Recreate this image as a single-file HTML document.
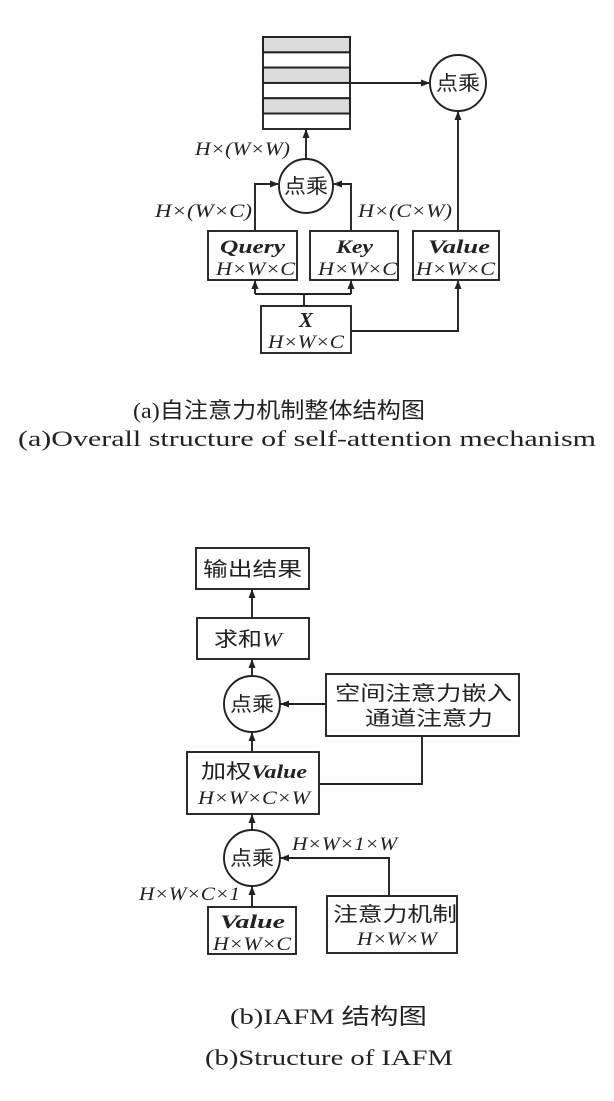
<!DOCTYPE html>
<html><head><meta charset="utf-8"><style>
html,body{margin:0;padding:0;background:#fff;}
svg{display:block;}
text{fill:#222;}
.s{font-family:"Liberation Serif","Noto Serif CJK SC",serif;}
.c{font-family:"Liberation Serif","Noto Sans CJK SC",serif;}
</style></head><body>
<svg width="614" height="1101" viewBox="0 0 614 1101" xmlns="http://www.w3.org/2000/svg">
<defs><marker id="a" markerWidth="9" markerHeight="8" refX="8" refY="4" orient="auto" markerUnits="userSpaceOnUse"><path d="M0,0.5 L9,4 L0,7.5 z" fill="#222"/></marker></defs>
<g stroke="#222" stroke-width="1.9" fill="none">
<rect x="263" y="37" width="87" height="15.3" fill="#dcdcdc"/>
<rect x="263" y="67.6" width="87" height="15.3" fill="#dcdcdc"/>
<rect x="263" y="98.2" width="87" height="15.3" fill="#dcdcdc"/>
<rect x="263" y="37" width="87" height="92"/>
<line x1="263" y1="52.3" x2="350" y2="52.3"/><line x1="263" y1="67.6" x2="350" y2="67.6"/><line x1="263" y1="82.9" x2="350" y2="82.9"/><line x1="263" y1="98.2" x2="350" y2="98.2"/><line x1="263" y1="113.5" x2="350" y2="113.5"/>
<circle cx="458" cy="83" r="28"/>
<circle cx="306" cy="186" r="27"/>
<line x1="350" y1="83" x2="429" y2="83" marker-end="url(#a)"/>
<line x1="306" y1="159" x2="306" y2="130" marker-end="url(#a)"/>
<rect x="208" y="231" width="89" height="49"/>
<rect x="310" y="231" width="88" height="49"/>
<rect x="413" y="231" width="86" height="49"/>
<rect x="261" y="306" width="90" height="47"/>
<polyline points="255,231 255,184 278,184" marker-end="url(#a)"/>
<polyline points="351,231 351,184 334,184" marker-end="url(#a)"/>
<line x1="458" y1="231" x2="458" y2="112" marker-end="url(#a)"/>
<line x1="304" y1="306" x2="304" y2="294"/>
<line x1="255" y1="294" x2="351" y2="294"/>
<line x1="255" y1="294" x2="255" y2="281" marker-end="url(#a)"/>
<line x1="351" y1="294" x2="351" y2="281" marker-end="url(#a)"/>
<polyline points="351,331 458,331 458,281" marker-end="url(#a)"/>
<rect x="196" y="548" width="113" height="41"/>
<rect x="197" y="618" width="112" height="41"/>
<circle cx="252" cy="704" r="28"/>
<rect x="326" y="674" width="193" height="62"/>
<rect x="187" y="752" width="132" height="62"/>
<circle cx="252" cy="858" r="28"/>
<rect x="208" y="907" width="88" height="47"/>
<rect x="327" y="896" width="130" height="57"/>
<line x1="252" y1="618" x2="252" y2="590" marker-end="url(#a)"/>
<line x1="252" y1="676" x2="252" y2="660" marker-end="url(#a)"/>
<line x1="326" y1="704" x2="281" y2="704" marker-end="url(#a)"/>
<line x1="252" y1="752" x2="252" y2="733" marker-end="url(#a)"/>
<polyline points="422,736 422,784 319,784"/>
<line x1="252" y1="830" x2="252" y2="815" marker-end="url(#a)"/>
<line x1="252" y1="907" x2="252" y2="887" marker-end="url(#a)"/>
<polyline points="389,896 389,858 281,858" marker-end="url(#a)"/>
</g>
<g class="s" font-size="19">
<text x="436" y="90" class="c" font-size="20" textLength="44" lengthAdjust="spacingAndGlyphs">点乘</text>
<text x="284" y="193" class="c" font-size="20" textLength="44" lengthAdjust="spacingAndGlyphs">点乘</text>
<text x="195" y="155" font-style="italic" textLength="95" lengthAdjust="spacingAndGlyphs">H×(W×W)</text>
<text x="155" y="217" font-style="italic" textLength="97" lengthAdjust="spacingAndGlyphs">H×(W×C)</text>
<text x="358" y="217" font-style="italic" textLength="94" lengthAdjust="spacingAndGlyphs">H×(C×W)</text>
<text x="220" y="253" font-style="italic" font-weight="bold" textLength="65" lengthAdjust="spacingAndGlyphs">Query</text>
<text x="216" y="275" font-style="italic" textLength="79" lengthAdjust="spacingAndGlyphs">H×W×C</text>
<text x="336" y="253" font-style="italic" font-weight="bold" textLength="37" lengthAdjust="spacingAndGlyphs">Key</text>
<text x="318" y="275" font-style="italic" textLength="79" lengthAdjust="spacingAndGlyphs">H×W×C</text>
<text x="428" y="253" font-style="italic" font-weight="bold" textLength="62" lengthAdjust="spacingAndGlyphs">Value</text>
<text x="416" y="275" font-style="italic" textLength="79" lengthAdjust="spacingAndGlyphs">H×W×C</text>
<text x="306" y="327" text-anchor="middle" font-style="italic" font-weight="bold" font-size="21">X</text>
<text x="268" y="348" font-style="italic" textLength="76" lengthAdjust="spacingAndGlyphs">H×W×C</text>
<text x="203" y="576" class="c" font-size="20" textLength="99" lengthAdjust="spacingAndGlyphs">输出结果</text>
<text x="214" y="646" class="c" font-size="20" textLength="68" lengthAdjust="spacingAndGlyphs">求和<tspan font-style="italic" font-family="Liberation Serif">W</tspan></text>
<text x="230" y="711" class="c" font-size="20" textLength="44" lengthAdjust="spacingAndGlyphs">点乘</text>
<text x="335" y="700" class="c" font-size="20" textLength="177" lengthAdjust="spacingAndGlyphs">空间注意力嵌入</text>
<text x="365" y="725" class="c" font-size="20" textLength="128" lengthAdjust="spacingAndGlyphs">通道注意力</text>
<text x="201" y="778" textLength="106" lengthAdjust="spacingAndGlyphs"><tspan class="c" font-size="20">加权</tspan><tspan font-style="italic" font-weight="bold">Value</tspan></text>
<text x="198" y="804" font-style="italic" textLength="112" lengthAdjust="spacingAndGlyphs">H×W×C×W</text>
<text x="230" y="865" class="c" font-size="20" textLength="44" lengthAdjust="spacingAndGlyphs">点乘</text>
<text x="292" y="850" font-style="italic" textLength="105" lengthAdjust="spacingAndGlyphs">H×W×1×W</text>
<text x="139" y="900" font-style="italic" textLength="101" lengthAdjust="spacingAndGlyphs">H×W×C×1</text>
<text x="220" y="928" font-style="italic" font-weight="bold" textLength="65" lengthAdjust="spacingAndGlyphs">Value</text>
<text x="213" y="950" font-style="italic" textLength="78" lengthAdjust="spacingAndGlyphs">H×W×C</text>
<text x="333" y="921" class="c" font-size="20" textLength="124" lengthAdjust="spacingAndGlyphs">注意力机制</text>
<text x="357" y="945" font-style="italic" textLength="80" lengthAdjust="spacingAndGlyphs">H×W×W</text>
</g>
<g class="c" font-size="22">
<text x="133" y="418" textLength="292" lengthAdjust="spacingAndGlyphs">(a)自注意力机制整体结构图</text>
<text x="18" y="446" textLength="578" lengthAdjust="spacingAndGlyphs">(a)Overall structure of self-attention mechanism</text>
<text x="230" y="1024" textLength="197" lengthAdjust="spacingAndGlyphs">(b)IAFM 结构图</text>
<text x="205" y="1065" textLength="248" lengthAdjust="spacingAndGlyphs">(b)Structure of IAFM</text>
</g>
</svg>
</body></html>
